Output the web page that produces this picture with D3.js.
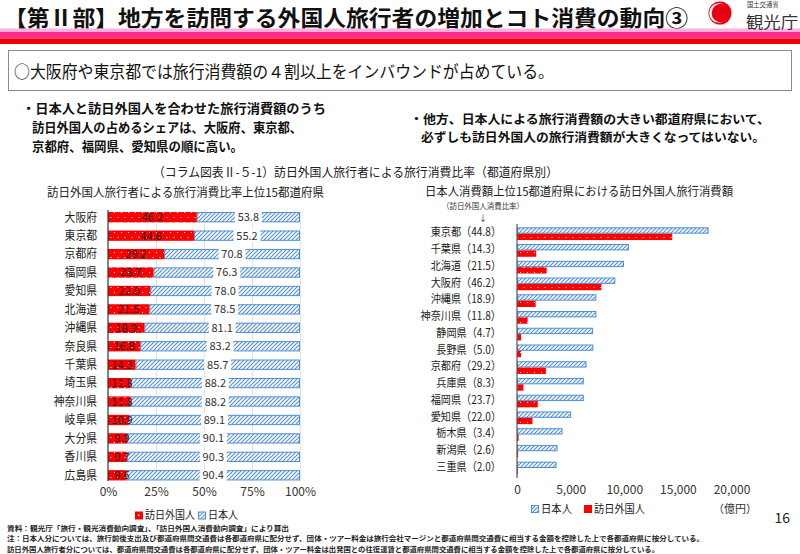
<!DOCTYPE html>
<html><head><meta charset="utf-8">
<script src="https://cdn.jsdelivr.net/npm/d3@7"></script>
<style>
body{margin:0;background:#fff}
svg{display:block}
text{font-family:"Noto Sans CJK JP","Noto Sans",sans-serif}
</style>
</head><body>
<svg id="c" width="800" height="554"></svg>
<script>
// ---------- data ----------
const leftPrefs = ["大阪府","東京都","京都府","福岡県","愛知県","北海道","沖縄県","奈良県","千葉県","埼玉県","神奈川県","岐阜県","大分県","香川県","広島県"];
const leftForeign = [46.2,44.8,29.2,23.7,22.0,21.5,18.9,16.8,14.3,11.8,11.8,10.9,9.9,9.7,9.6];
const leftJapanese = [53.8,55.2,70.8,76.3,78.0,78.5,81.1,83.2,85.7,88.2,88.2,89.1,90.1,90.3,90.4];
const leftTicks = [0,25,50,75,100];

const rightPrefs = ["東京都","千葉県","北海道","大阪府","沖縄県","神奈川県","静岡県","長野県","京都府","兵庫県","福岡県","愛知県","栃木県","新潟県","三重県"];
const rightRatio = ["44.8","14.3","21.5","46.2","18.9","11.8","4.7","5.0","29.2","8.3","23.7","22.0","3.4","2.6","2.0"];
const rightJapanese = [17870,10440,9970,9170,7400,7400,7090,7120,6480,6230,6230,5050,4240,3780,3690];
const rightForeign = [14470,1790,2760,7870,1740,990,380,380,2690,600,1940,1440,150,100,75];
const rightTicks = [0,5000,10000,15000,20000];

const seriesNames = ["訪日外国人","日本人"];

// ---------- setup ----------
const svg = d3.select("#c");
const RED = "#ff0000", BLUE = "#4f8fd8";
const defs = svg.append("defs");
const hatch = defs.append("pattern").attr("id","hatch").attr("patternUnits","userSpaceOnUse")
  .attr("width",4).attr("height",4);
hatch.append("rect").attr("width",4).attr("height",4).attr("fill","#fff");
hatch.append("path").attr("d","M-1,1 l2,-2 M0,4 l4,-4 M3,5 l2,-2").attr("stroke",BLUE).attr("stroke-width",1.1);
const dots = defs.append("pattern").attr("id","dots").attr("patternUnits","userSpaceOnUse")
  .attr("width",7).attr("height",10);
dots.append("rect").attr("width",7).attr("height",10).attr("fill",RED);
dots.append("rect").attr("x",2).attr("y",2).attr("width",1).attr("height",1).attr("fill","#fff");
dots.append("rect").attr("x",5.5).attr("y",7).attr("width",1).attr("height",1).attr("fill","#fff");

function squeeze(sel, k){ sel.each(function(){ const w=this.getComputedTextLength(); d3.select(this).attr("textLength",w*k).attr("lengthAdjust","spacingAndGlyphs"); }); }

// ---------- header ----------
svg.append("text").attr("x",4).attr("y",26).attr("font-size",22).attr("font-weight","bold")
  .attr("fill","#111").attr("textLength",684).attr("lengthAdjust","spacingAndGlyphs")
  .text("【第Ⅱ部】地方を訪問する外国人旅行者の増加とコト消費の動向③");
svg.append("rect").attr("x",0).attr("y",28.5).attr("width",800).attr("height",3.5).attr("fill","#ffb0dc");
svg.append("rect").attr("x",0).attr("y",32).attr("width",800).attr("height",6.5).attr("fill","#ff2e8c");
svg.append("rect").attr("x",0).attr("y",38.5).attr("width",800).attr("height",5.5).attr("fill","#f00000");
// logo
svg.append("circle").attr("cx",720).attr("cy",13).attr("r",11.5).attr("fill","#e60012");
svg.append("circle").attr("cx",719).attr("cy",13).attr("r",9.8).attr("fill","#fff");
svg.append("circle").attr("cx",720.8).attr("cy",13).attr("r",9.2).attr("fill","#e60012");
svg.append("text").attr("x",747).attr("y",7).attr("font-size",6.3).attr("fill","#333").text("国土交通省");
svg.append("text").attr("x",746).attr("y",27.5).attr("font-size",15.5).attr("fill","#333")
  .attr("textLength",52).attr("lengthAdjust","spacingAndGlyphs").text("観光庁");

// summary box
svg.append("rect").attr("x",8.5).attr("y",50.5).attr("width",783).attr("height",40).attr("fill","#fff").attr("stroke","#8c8c8c");
svg.append("text").attr("x",14).attr("y",78).attr("font-size",16.5).attr("fill","#111")
  .attr("textLength",540).attr("lengthAdjust","spacingAndGlyphs")
  .text("○大阪府や東京都では旅行消費額の４割以上をインバウンドが占めている。");

// bullets
const bl = [
  {x:22,y:113,t:"・日本人と訪日外国人を合わせた旅行消費額のうち",w:304,fs:13},
  {x:32,y:132,t:"訪日外国人の占めるシェアは、大阪府、東京都、",w:270,fs:13},
  {x:32,y:151,t:"京都府、福岡県、愛知県の順に高い。",w:211,fs:13},
  {x:410,y:124,t:"・他方、日本人による旅行消費額の大きい都道府県において、",w:360,fs:12.4},
  {x:421,y:142,t:"必ずしも訪日外国人の旅行消費額が大きくなってはいない。",w:344,fs:12.4}
];
bl.forEach(d=>svg.append("text").attr("x",d.x).attr("y",d.y).attr("font-size",d.fs).attr("font-weight","bold")
  .attr("fill","#111").attr("textLength",d.w).attr("lengthAdjust","spacingAndGlyphs").text(d.t));

svg.append("text").attr("x",153).attr("y",177).attr("font-size",12.5).attr("fill","#222")
  .attr("textLength",405).attr("lengthAdjust","spacingAndGlyphs")
  .text("（コラム図表Ⅱ-５-1）訪日外国人旅行者による旅行消費比率（都道府県別）");

// ---------- left chart ----------
svg.append("text").attr("x",47).attr("y",197).attr("font-size",12).attr("fill","#222")
  .attr("textLength",277).attr("lengthAdjust","spacingAndGlyphs")
  .text("訪日外国人旅行者による旅行消費比率上位15都道府県");

const xL = d3.scaleLinear().domain([0,100]).range([108,300]);
const yL = d3.scaleBand().domain(leftPrefs).range([208,484.5]).paddingInner(0.44).paddingOuter(0.22);
const gL = svg.append("g");
gL.selectAll("line.grid").data(leftTicks.slice(1)).join("line")
  .attr("x1",d=>xL(d)+0.5).attr("x2",d=>xL(d)+0.5).attr("y1",210).attr("y2",481)
  .attr("stroke","#e3e3e3");
const leftData = leftPrefs.map((p,i)=>({p, f:leftForeign[i], j:leftJapanese[i]}));
const bh = yL.bandwidth();
gL.selectAll("rect.jp").data(leftData).join("rect")
  .attr("x",d=>xL(d.f)+0.5).attr("y",d=>yL(d.p)+0.5)
  .attr("width",d=>xL(100)-xL(d.f)-1).attr("height",bh-1)
  .attr("fill","url(#hatch)").attr("stroke",BLUE).attr("stroke-width",1);
gL.selectAll("rect.fr").data(leftData).join("rect")
  .attr("x",xL(0)).attr("y",d=>yL(d.p)).attr("width",d=>xL(d.f)-xL(0)).attr("height",bh)
  .attr("fill","url(#dots)");
gL.selectAll("rect.lb").data(leftData).join("rect")
  .attr("x",d=>xL((d.f+100)/2)-13.5).attr("y",d=>yL(d.p)-1).attr("width",27).attr("height",bh+2)
  .attr("fill","#fff");
gL.selectAll("text.jl").data(leftData).join("text")
  .attr("x",d=>xL((d.f+100)/2)).attr("y",d=>yL(d.p)+bh/2).attr("dy","0.36em")
  .attr("text-anchor","middle").attr("font-size",11).attr("fill","#333").text(d=>d.j.toFixed(1));
gL.selectAll("text.fl").data(leftData).join("text")
  .attr("x",d=>Math.max(xL(d.f/2), xL(0)+14)).attr("y",d=>yL(d.p)+bh/2).attr("dy","0.36em")
  .attr("text-anchor","middle").attr("font-size",11).attr("fill","#222").text(d=>d.f.toFixed(1));
gL.selectAll("text.cat").data(leftData).join("text")
  .attr("x",97).attr("y",d=>yL(d.p)+bh/2).attr("dy","0.36em").attr("text-anchor","end")
  .attr("font-size",12).attr("fill","#222").text(d=>d.p).call(squeeze,0.9);
gL.append("line").attr("x1",108).attr("x2",108).attr("y1",210).attr("y2",481).attr("stroke","#333").attr("stroke-width",1.2);
const axL = svg.append("g").attr("transform","translate(0,487)")
  .call(d3.axisBottom(xL).tickValues(leftTicks).tickFormat(d=>d+"%").tickSize(0).tickPadding(0));
axL.select(".domain").remove();
axL.selectAll("text").attr("font-size",12).attr("fill","#333").attr("font-family",'"Noto Sans CJK JP",sans-serif');

const lgL = svg.append("g").attr("transform","translate(0,515.5)");
lgL.append("rect").attr("x",135).attr("y",-4).attr("width",8).attr("height",8).attr("fill",RED);
lgL.append("rect").attr("x",138).attr("y",-1).attr("width",1.5).attr("height",1.5).attr("fill","#fff");
lgL.append("text").attr("x",145).attr("y",0).attr("dy","0.36em").attr("font-size",11).attr("fill","#222")
  .attr("textLength",50).attr("lengthAdjust","spacingAndGlyphs").text(seriesNames[0]);
lgL.append("rect").attr("x",198.5).attr("y",-3.5).attr("width",7).attr("height",7).attr("fill","url(#hatch)").attr("stroke",BLUE);
lgL.append("text").attr("x",208).attr("y",0).attr("dy","0.36em").attr("font-size",11).attr("fill","#222")
  .attr("textLength",30).attr("lengthAdjust","spacingAndGlyphs").text(seriesNames[1]);

// ---------- right chart ----------
svg.append("text").attr("x",425).attr("y",195.5).attr("font-size",12).attr("fill","#222")
  .attr("textLength",308).attr("lengthAdjust","spacingAndGlyphs")
  .text("日本人消費額上位15都道府県における訪日外国人旅行消費額");
svg.append("text").attr("x",442).attr("y",208.8).attr("font-size",8).attr("fill","#333")
  .attr("textLength",82).attr("lengthAdjust","spacingAndGlyphs").text("（訪日外国人消費比率）");
svg.append("text").attr("x",483).attr("y",220.5).attr("font-size",8).attr("text-anchor","middle").attr("fill","#333").text("↓");

const xR = d3.scaleLinear().domain([0,20000]).range([517,731.5]);
const yR = d3.scaleBand().domain(rightPrefs).range([223.3,478.4]).paddingInner(0.24).paddingOuter(0.24);
const ySub = d3.scaleBand().domain(["jp","fr"]).range([0,yR.bandwidth()]);
const rightData = rightPrefs.map((p,i)=>({p, r:rightRatio[i], j:rightJapanese[i], f:rightForeign[i]}));
const gR = svg.append("g");
const sb = ySub.bandwidth();
gR.selectAll("rect.jp").data(rightData).join("rect")
  .attr("x",xR(0)+0.5).attr("y",d=>yR(d.p)+ySub("jp")+0.5)
  .attr("width",d=>xR(d.j)-xR(0)-1).attr("height",sb-1)
  .attr("fill","url(#hatch)").attr("stroke",BLUE);
gR.selectAll("rect.fr").data(rightData).join("rect")
  .attr("x",xR(0)).attr("y",d=>yR(d.p)+ySub("fr")).attr("width",d=>xR(d.f)-xR(0)).attr("height",sb)
  .attr("fill","url(#dots)");
gR.selectAll("text.cat").data(rightData).join("text")
  .attr("x",501).attr("y",d=>yR(d.p)+yR.bandwidth()/2-1).attr("dy","0.33em").attr("text-anchor","end")
  .attr("font-size",11.5).attr("fill","#222").text(d=>d.p+"（"+d.r+"）").call(squeeze,0.88);
gR.append("line").attr("x1",517).attr("x2",517).attr("y1",224).attr("y2",478).attr("stroke","#555").attr("stroke-width",1.2);
const axR = svg.append("g").attr("transform","translate(0,485)")
  .call(d3.axisBottom(xR).tickValues(rightTicks).tickFormat(d3.format(",")).tickSize(0).tickPadding(0));
axR.select(".domain").remove();
axR.selectAll("text").attr("font-size",12).attr("fill","#333").attr("font-family",'"Noto Sans CJK JP",sans-serif');
svg.append("text").attr("x",735).attr("y",509).attr("dy","0.36em").attr("text-anchor","middle")
  .attr("font-size",11).attr("fill","#333").text("（億円）");

const lgR = svg.append("g").attr("transform","translate(0,509)");
lgR.append("rect").attr("x",531.5).attr("y",-3.5).attr("width",7).attr("height",7).attr("fill","url(#hatch)").attr("stroke",BLUE);
lgR.append("text").attr("x",541).attr("y",0).attr("dy","0.36em").attr("font-size",11.5).attr("fill","#222")
  .attr("textLength",31).attr("lengthAdjust","spacingAndGlyphs").text(seriesNames[1]);
lgR.append("rect").attr("x",584).attr("y",-4).attr("width",8).attr("height",8).attr("fill",RED);
lgR.append("text").attr("x",594).attr("y",0).attr("dy","0.36em").attr("font-size",11.5).attr("fill","#222")
  .attr("textLength",51).attr("lengthAdjust","spacingAndGlyphs").text(seriesNames[0]);

svg.append("text").attr("x",790).attr("y",523).attr("text-anchor","end").attr("font-size",14).attr("fill","#222").text("16");

// ---------- footer ----------
const notes = [
  {y:531,w:282,t:"資料：観光庁「旅行・観光消費動向調査」、「訪日外国人消費動向調査」により算出"},
  {y:541.3,w:697,t:"注：日本人分については、旅行前後支出及び都道府県間交通費は各都道府県に配分せず、団体・ツアー料金は旅行会社マージンと都道府県間交通費に相当する金額を控除した上で各都道府県に按分している。"},
  {y:551.6,w:652,t:"訪日外国人旅行者分については、都道府県間交通費は各都道府県に配分せず、団体・ツアー料金は出発国との往復運賃と都道府県間交通費に相当する金額を控除した上で各都道府県に按分している。"}
];
notes.forEach(d=>svg.append("text").attr("x",7).attr("y",d.y).attr("font-size",7).attr("font-weight","bold")
  .attr("fill","#222").attr("textLength",d.w).attr("lengthAdjust","spacingAndGlyphs").text(d.t));
</script>
</body></html>
